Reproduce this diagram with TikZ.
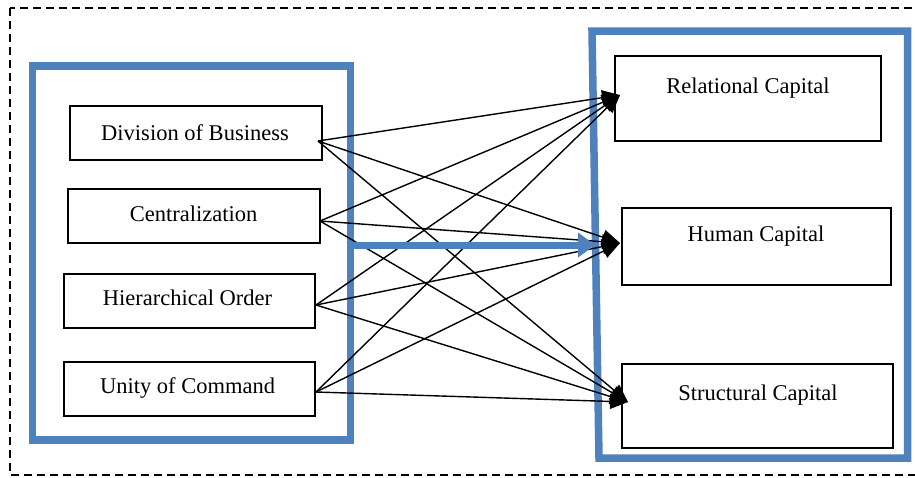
\documentclass[tikz,border=0pt]{standalone}
\usepackage{fontspec}
\setmainfont{Liberation Serif}
\usetikzlibrary{arrows.meta}
\definecolor{obl}{RGB}{79,129,189}
\begin{document}
\begin{tikzpicture}[x=1pt,y=-1pt,
  box/.style={draw=black,line width=1.4pt,inner sep=0pt,fill=white},
  lbl/.style={font=\fontsize{22.5}{24}\selectfont,inner sep=0pt,anchor=base},
  con/.style={line width=1.4pt,-{Triangle[length=18pt,width=15pt]}},
  bluebox/.style={draw=obl,line width=7.5pt}]
\useasboundingbox (0,0) rectangle (915,477);
\begin{scope}
\clip (0,0) rectangle (915,477);
\draw[line width=1.3pt,dash pattern=on 8pt off 5pt] (10,8) rectangle (930,475);
\end{scope}
% blue groups
\draw[bluebox] (32.5,66) rectangle (350.5,440);
\draw[bluebox] (592,31) -- (907.5,31) -- (907.5,458) -- (599,458) -- cycle;
% left boxes
\node[box,minimum width=252pt,minimum height=54pt] (d) at (196,133) {};
\node[box,minimum width=252pt,minimum height=54pt] (c) at (194,216) {};
\node[box,minimum width=251pt,minimum height=54pt] (h) at (189.5,301) {};
\node[box,minimum width=251pt,minimum height=54pt] (u) at (189.5,389) {};
% right boxes
\node[box,minimum width=266pt,minimum height=85pt] (r) at (748,98.5) {};
\node[box,minimum width=269pt,minimum height=77pt] (hc) at (756.5,246.5) {};
\node[box,minimum width=271pt,minimum height=84pt] (s) at (757.5,406) {};
% texts
\node[lbl] (dt) at (195,140) {Division of Business};
\node[lbl] (ct) at (193.5,221) {Centralization};
\node[lbl] (ht) at (187.5,305) {Hierarchical Order};
\node[lbl] (ut) at (187.5,393) {Unity of Command};
\node[lbl] (rt) at (748,93) {Relational Capital};
\node[lbl] (hct) at (756,241) {Human Capital};
\node[lbl] (st) at (758,400) {Structural Capital};
% connector ends
\coordinate (d1) at (318,141);
\coordinate (c1) at (320,221);
\coordinate (h1) at (316,305);
\coordinate (u1) at (316,392);
\coordinate (r1) at (620,95);
\coordinate (hc1) at (620,243);
\coordinate (s1) at (628,402);
\foreach \a in {d1,c1,h1,u1}{
  \foreach \b in {r1,hc1,s1}{
    \draw[con] (\a) -- (\b);
  }
}
% blue arrow
\coordinate (bl) at (350,245);
\coordinate (br) at (595,245);
\draw[draw=obl,line width=7pt,-{Triangle[length=17pt,width=24pt]}] (bl) -- (br);
\end{tikzpicture}
\end{document}
